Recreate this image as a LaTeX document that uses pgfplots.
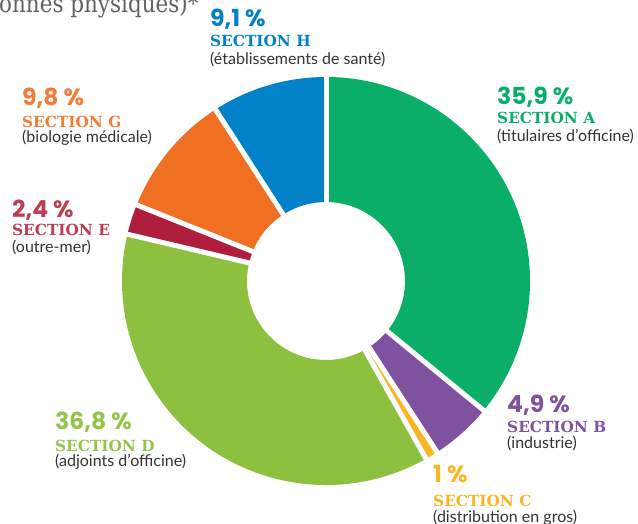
\documentclass[border=0pt]{standalone}
\usepackage{pgfplots}
\usepackage{pgfplotstable}
\pgfplotsset{compat=1.18}
\usepackage{fontspec}
\setmainfont{Lato}
\newfontfamily\pctf{Poppins}
\newfontfamily\secf{DejaVu Serif}
\newfontfamily\titf{DejaVu Serif}
\definecolor{c0}{HTML}{0BAE68}
\definecolor{c1}{HTML}{7E529E}
\definecolor{c2}{HTML}{FBB522}
\definecolor{c3}{HTML}{8DC03F}
\definecolor{c4}{HTML}{AF1E3C}
\definecolor{c5}{HTML}{EF6F23}
\definecolor{c6}{HTML}{0281C8}
\definecolor{t4}{HTML}{BD3D52}
\definecolor{t5}{HTML}{F07D38}
\definecolor{t3}{HTML}{95C44D}
\definecolor{txt}{HTML}{333333}
\pgfplotstableread{
sec val
A 35.9
B 4.9
C 1.0
D 36.8
E 2.4
G 9.8
H 9.1
}\shares
\newcommand\lbl[8]{%
 \node[anchor=base west, inner sep=0pt, text=#5, font=\pctf\bfseries\fontsize{23.5bp}{23.5bp}\selectfont] at (axis cs:#1,#2) {#6\kern1bp};
 \node[anchor=base west, inner sep=0pt, text=#5, font=\secf\bfseries\fontsize{15.3bp}{15.5bp}\selectfont] at (axis cs:#1,#3) {#7};
 \node[anchor=base west, inner sep=0pt, text=txt, font=\fontsize{16bp}{16bp}\selectfont] at (axis cs:#1,#4) {#8};
}
\begin{document}
\begin{tikzpicture}
\useasboundingbox (0,0) rectangle (638bp,524bp);
\clip (0,0) rectangle (638bp,524bp);
\begin{axis}[anchor=origin, at={(0,0)}, scale only axis, width=638bp, height=524bp,
  xmin=0, xmax=638, ymin=0, ymax=524, hide axis, clip=false]
\pgfplotsextra{%
  \pgfmathsetmacro{\fac}{360/99.9}%
  \gdef\curang{90}%
  \pgfplotsforeachungrouped \i in {0,...,6}{%
    \pgfplotstablegetelem{\i}{val}\of\shares
    \pgfmathsetmacro{\endang}{\curang-\fac*\pgfplotsretval}%
    \fill[c\i] (axis cs:326,243) ++(\curang:204bp) arc[start angle=\curang, end angle=\endang, radius=204bp] -- ++(\endang:-125bp) arc[start angle=\endang, end angle=\curang, radius=79bp] -- cycle;
    \xdef\curang{\endang}%
  }%
  \gdef\curang{90}%
  \pgfplotsforeachungrouped \i in {0,...,6}{%
    \pgfplotstablegetelem{\i}{val}\of\shares
    \draw[white, line width=5bp] (axis cs:326,243) ++(\curang:70bp) -- ++(\curang:140bp);
    \pgfmathsetmacro{\endang}{\curang-\fac*\pgfplotsretval}%
    \xdef\curang{\endang}%
  }%
}
\node[anchor=base west, inner sep=0pt, text=black!62, xscale=0.86, transform shape, font=\titf\fontsize{25bp}{25bp}\selectfont] at (axis cs:-1,511) {onnes physiques)*};
\lbl{497}{419}{400}{382}{c0}{35,9 \%}{SECTION A}{(titulaires d’officine)}
\lbl{210}{497}{477}{459}{c6}{9,1 \%}{SECTION H}{(établissements de santé)}
\lbl{22}{418}{396}{381}{t5}{9,8 \%}{SECTION G}{(biologie médicale)}
\lbl{12}{306}{288}{271}{t4}{2,4 \%}{SECTION E}{(outre-mer)}
\lbl{55}{94}{72}{57}{t3}{36,8 \%}{SECTION D}{(adjoints d’officine)}
\lbl{507}{111}{91}{75}{c1}{4,9 \%}{SECTION B}{(industrie)}
\lbl{433}{41}{18}{2}{c2}{1 \%}{SECTION C}{(distribution en gros)}
\end{axis}
\end{tikzpicture}
\end{document}
